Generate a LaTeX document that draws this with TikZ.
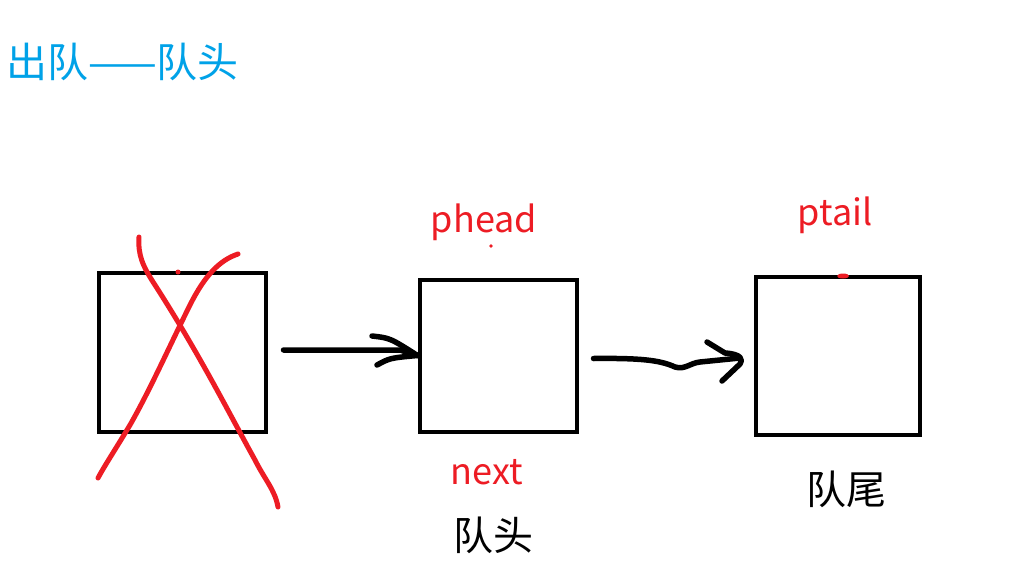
\documentclass[tikz,border=0pt]{standalone}
\usepackage{fontspec}
\usetikzlibrary{calc}
\setmainfont{Noto Sans CJK SC}
\definecolor{pblue}{HTML}{00A2E8}
\definecolor{pred}{HTML}{ED1C24}
\tikzset{
  box/.style={draw=black, line width=4pt, inner sep=0pt},
  pen/.style={line width=5.5pt, line cap=round, line join=round},
  redpen/.style={pen, line width=5pt, draw=pred},
  redtxt/.style={text=pred, font=\fontsize{36}{38}\selectfont, inner sep=0pt},
  blktxt/.style={text=black, font=\fontsize{40}{44}\selectfont, inner sep=0pt},
}
\begin{document}
\begin{tikzpicture}[x=1pt,y=-1pt]
\useasboundingbox (0,0) rectangle (1028,584);
\fill[white] (0,0) rectangle (1028,584);
% title
\node[anchor=west, text=pblue, font=\fontsize{41}{44}\selectfont, inner sep=0pt] (title) at (6,62) {出队——队头};
% boxes
\node[box, minimum width=167pt, minimum height=159pt] (b1) at (182,352) {};
\node[box, minimum width=157pt, minimum height=152pt] (b2) at (498,355.5) {};
\node[box, minimum width=164pt, minimum height=158pt] (b3) at (837.5,355.5) {};
% arrow 1
\coordinate (a1s) at ($(b1.east)+(16,-2)$);
\draw[pen] (a1s) -- (400,350) -- (b2.west);
\draw[pen] (372,336) .. controls (390,338) .. (b2.west);
\draw[pen] (b2.west) .. controls (390,358) .. (377,365);
% arrow 2
\coordinate (a2s) at ($(b2.east)+(15,3)$);
\coordinate (a2e) at (740,358);
\draw[pen] (a2s) .. controls (640,358) and (660,360) .. (675,367)
  .. controls (685,370) and (690,363) .. (700,362) -- (a2e);
\draw[pen] (707,342) -- (725,353) .. controls (742,354) and (743,360) .. (740,364) -- (722,381);
% red cross
\draw[redpen] (139,237) .. controls (138,255) and (142,265) .. (155,285)
  .. controls (200,355) and (230,415) .. (255,460)
  .. controls (265,480) and (275,490) .. (278,507);
\draw[redpen] (238,254) .. controls (220,260) and (205,275) .. (190,305)
  .. controls (170,345) and (150,390) .. (130,425)
  .. controls (115,450) and (105,465) .. (98,478);
\fill[pred] (178,272) circle (2.5);
% labels
\node[redtxt] (phead) at (484,222) {phead};
\node[redtxt] (ptail) at (835,215) {ptail};
\node[redtxt] (next) at (487,472) {next};
\fill[pred] (491,246) circle (1.8);
\fill[pred] (843,276) ellipse (6 and 2.5);
\node[blktxt] (head) at (493,535) {队头};
\node[blktxt] (tail) at (846,489) {队尾};
\end{tikzpicture}
\end{document}
